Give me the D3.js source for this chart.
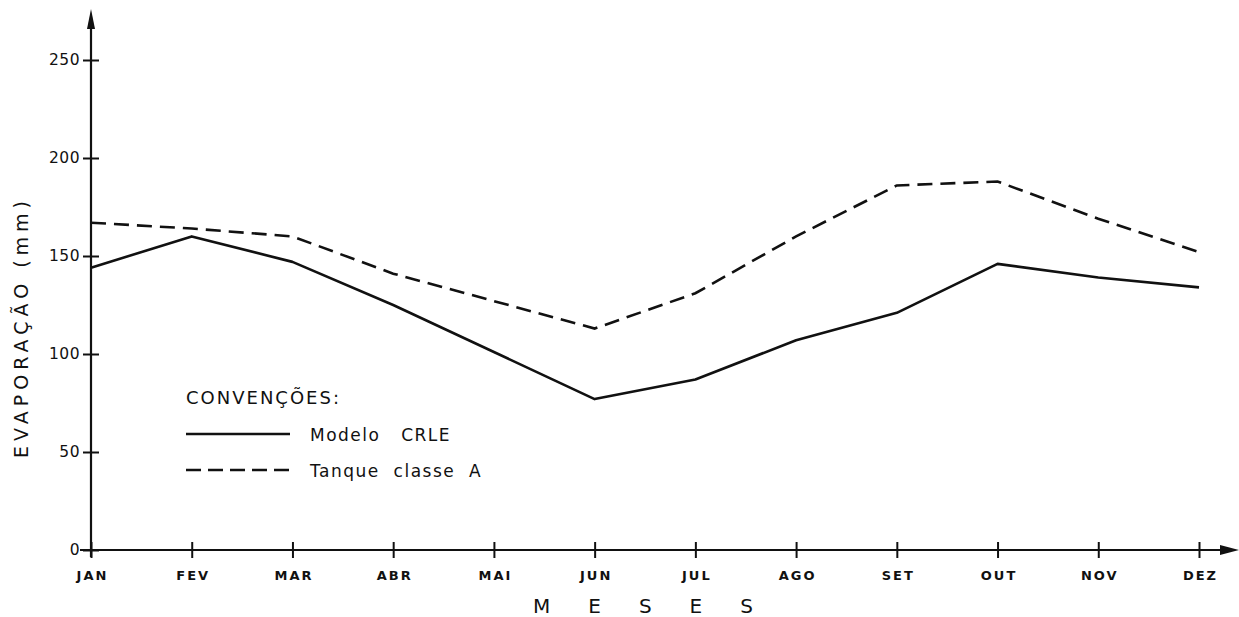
<!DOCTYPE html>
<html><head><meta charset="utf-8">
<script src="https://cdn.jsdelivr.net/npm/d3@7"></script>
<style>
body{margin:0;background:#fff;}
svg{display:block;}
</style></head>
<body>
<svg id="chart" width="1239" height="617"></svg>
<script>
const months = ["JAN","FEV","MAR","ABR","MAI","JUN","JUL","AGO","SET","OUT","NOV","DEZ"];
const modeloCRLE = [144, 160, 147, 125, 101, 77, 87, 107, 121, 146, 139, 134];
const tanqueClasseA = [167, 164, 160, 141, 127, 113, 131, 160, 186, 188, 169, 152];
const yTicks = [0, 50, 100, 150, 200, 250];

const svg = d3.select("#chart");
const x = d3.scalePoint().domain(months).range([91, 1199]);
const y = d3.scaleLinear().domain([0, 250]).range([550, 60]);
const ink = "#111";

// Y axis
const yAxis = d3.axisLeft(y).tickValues(yTicks).tickSize(0).tickPadding(11).tickFormat(d3.format("d"));
const gy = svg.append("g").attr("transform", "translate(91,0)").call(yAxis);
gy.select(".domain").remove();
gy.selectAll("text").attr("font-family", "DejaVu Sans, sans-serif").attr("font-size", 15.5).attr("fill", ink).attr("letter-spacing", "0.5px");
gy.selectAll(".tick").append("line").attr("x1", -8).attr("x2", 8).attr("stroke", ink).attr("stroke-width", 2);
svg.append("line").attr("x1", 91).attr("x2", 91).attr("y1", 557).attr("y2", 22).attr("stroke", ink).attr("stroke-width", 2.2);
svg.append("path").attr("d", "M91,9 L95,29 L87,29 Z").attr("fill", ink);

// X axis
const xAxis = d3.axisBottom(x).tickSize(0).tickPadding(21);
const gx = svg.append("g").attr("transform", "translate(0,550)").call(xAxis);
gx.select(".domain").remove();
gx.selectAll("text").attr("font-family", "DejaVu Sans, sans-serif").attr("font-weight", "bold").attr("font-size", 13).attr("fill", ink).attr("letter-spacing", "2px").attr("dx", "1px");
gx.selectAll(".tick").append("line").attr("y1", -8).attr("y2", 8).attr("stroke", ink).attr("stroke-width", 2);
svg.append("line").attr("x1", 80).attr("x2", 1224).attr("y1", 550).attr("y2", 550).attr("stroke", ink).attr("stroke-width", 2);
svg.append("path").attr("d", "M1239,550 L1220,545 L1220,555 Z").attr("fill", ink);

// Lines
const line = d3.line().x((d, i) => x(months[i])).y(d => y(d));
svg.append("path").datum(modeloCRLE).attr("d", line).attr("fill", "none").attr("stroke", ink).attr("stroke-width", 2.6).attr("stroke-linejoin", "round");
svg.append("path").datum(tanqueClasseA).attr("d", line).attr("fill", "none").attr("stroke", ink).attr("stroke-width", 2.6).attr("stroke-dasharray", "15,8");

// Axis titles
svg.append("text").attr("x", 643 + 19).attr("y", 613).attr("text-anchor", "middle")
  .attr("font-family", "DejaVu Sans, sans-serif").attr("font-size", 20).attr("letter-spacing", "38px").attr("fill", ink)
  .text("MESES");
svg.append("text").attr("transform", "translate(28,327) rotate(-90)").attr("text-anchor", "middle")
  .attr("font-family", "DejaVu Sans, sans-serif").attr("font-size", 19).attr("letter-spacing", "5px").attr("fill", ink)
  .text("EVAPORAÇÃO\u00A0(mm)");

// Legend
const lg = svg.append("g").attr("font-family", "DejaVu Sans, sans-serif").attr("fill", ink);
lg.append("text").attr("x", 186).attr("y", 404).attr("font-size", 18).attr("letter-spacing", "2px").text("CONVENÇÕES:");
lg.append("line").attr("x1", 186).attr("x2", 290).attr("y1", 434).attr("y2", 434).attr("stroke", ink).attr("stroke-width", 2.6);
lg.append("line").attr("x1", 186).attr("x2", 290).attr("y1", 470).attr("y2", 470).attr("stroke", ink).attr("stroke-width", 2.6).attr("stroke-dasharray", "15,7");
lg.append("text").attr("x", 310).attr("y", 441).attr("font-size", 17).attr("letter-spacing", "1.5px").text("Modelo\u00A0\u00A0\u00A0CRLE");
lg.append("text").attr("x", 310).attr("y", 477).attr("font-size", 17).attr("letter-spacing", "1.5px").text("Tanque\u00A0\u00A0classe\u00A0\u00A0A");
</script>
</body></html>
